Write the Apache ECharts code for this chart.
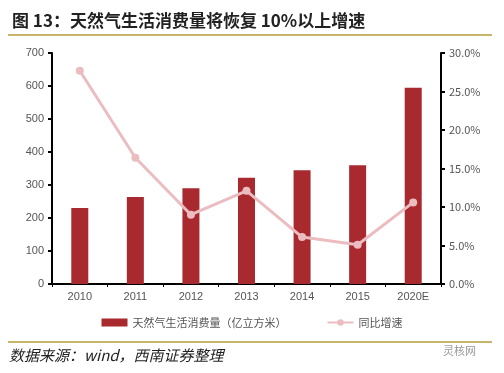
<!DOCTYPE html>
<html><head><meta charset="utf-8">
<script src="https://cdn.jsdelivr.net/npm/echarts@6/dist/echarts.min.js"></script>
<style>html,body{margin:0;padding:0;background:#fff}#c{width:504px;height:373px}</style>
</head><body><div id="c"></div>
<script>
var categories = ['2010','2011','2012','2013','2014','2015','2020E'];
var consumption = [230, 264, 290, 322, 345, 360, 595];
var growth = [27.7, 16.4, 9.0, 12.1, 6.1, 5.1, 10.6];
var leftTicks = [0, 700, 100];
var rightTicks = [0, 30, 5];

var chart = echarts.init(document.getElementById('c'));
var cjk = '"Noto Sans CJK SC", sans-serif';
chart.setOption({
  animation: false,
  textStyle: {fontFamily: cjk},
  grid: {left: 52, right: 63, top: 53, bottom: 89},
  title: {
    text: '图 13：天然气生活消费量将恢复 10%以上增速',
    left: 7, top: 7,
    textStyle: {fontSize: 17, fontWeight: 'bold', color: '#222', fontFamily: cjk}
  },
  legend: {
    bottom: 40, left: 'center', itemGap: 40,
    itemWidth: 26, itemHeight: 8,
    textStyle: {fontSize: 11, color: '#555'},
    data: [
      {name: '天然气生活消费量（亿立方米）', icon: 'rect'},
      {name: '同比增速'}
    ]
  },
  xAxis: {
    type: 'category', data: categories,
    axisLine: {lineStyle: {color: '#000', width: 2}},
    axisTick: {show: true, alignWithLabel: false, length: 3, lineStyle: {color: '#000'}},
    axisLabel: {color: '#555', fontSize: 11, fontFamily: 'Arial, sans-serif', margin: 7}
  },
  yAxis: [{
    type: 'value', min: leftTicks[0], max: leftTicks[1], interval: leftTicks[2],
    axisLine: {show: true, lineStyle: {color: '#000', width: 2}},
    axisTick: {show: true, length: 4, lineStyle: {color: '#000', width: 2}},
    splitLine: {show: false},
    axisLabel: {color: '#555', fontSize: 11, fontFamily: 'Arial, sans-serif', margin: 8}
  }, {
    type: 'value', min: rightTicks[0], max: rightTicks[1], interval: rightTicks[2],
    axisLine: {show: true, lineStyle: {color: '#000', width: 2}},
    axisTick: {show: true, length: 4, lineStyle: {color: '#000', width: 2}},
    splitLine: {show: false},
    axisLabel: {color: '#555', fontSize: 11, margin: 8, formatter: function(v){return v.toFixed(1) + '%';}}
  }],
  series: [{
    name: '天然气生活消费量（亿立方米）', type: 'bar', data: consumption,
    barWidth: 17, itemStyle: {color: '#a8292e'}
  }, {
    name: '同比增速', type: 'line', yAxisIndex: 1, data: growth,
    symbol: 'circle', symbolSize: 8,
    lineStyle: {color: '#ebbcc0', width: 3},
    itemStyle: {color: '#ebbcc0'}
  }],
  graphic: [
    {type: 'rect', shape: {x: 8, y: 34, width: 484, height: 2}, style: {fill: '#c9b56a'}},
    {type: 'rect', shape: {x: 8, y: 341, width: 484, height: 2}, style: {fill: '#c9b56a'}},
    {type: 'text', left: 9, top: 348, style: {text: '数据来源：wind，西南证券整理', fill: '#222', font: 'italic 15px "Noto Sans CJK SC", sans-serif'}},
    {type: 'text', left: 443, top: 345, style: {text: '灵核网', fill: '#999', font: '11px "Noto Sans CJK SC", sans-serif'}}
  ]
});
</script></body></html>
